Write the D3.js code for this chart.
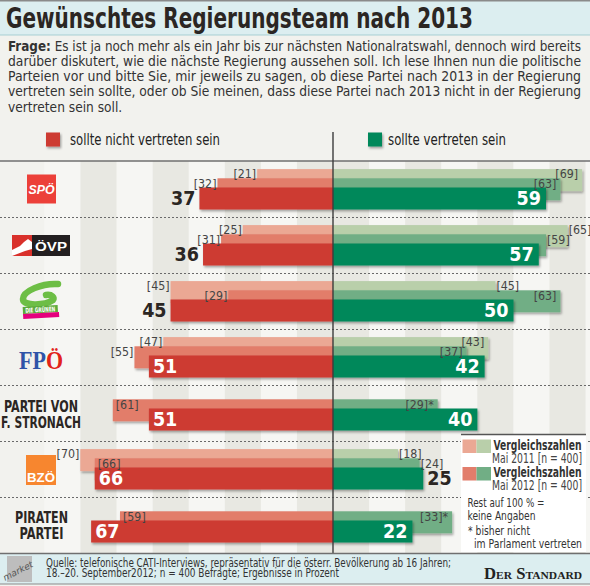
<!DOCTYPE html>
<html><head><meta charset="utf-8">
<script src="https://cdn.jsdelivr.net/npm/d3@7"></script>
<style>html,body{margin:0;padding:0;background:#F2F2EE;} svg{display:block;}</style>
</head><body>
<svg id="chart" width="590" height="586"></svg>
<script>
// ---------- DATA ----------
const parties = ["SPÖ","ÖVP","Die Grünen","FPÖ","Partei von F. Stronach","BZÖ","Piratenpartei"];
const notWantedSep2012 = [37,36,45,51,51,66,67];
const notWantedMay2012 = [32,31,29,55,61,66,59];
const notWantedMay2011 = [21,25,45,47,null,70,null];
const wantedSep2012   = [59,57,50,42,40,25,22];
const wantedMay2012   = [63,59,63,37,29,24,33];
const wantedMay2011   = [69,65,45,43,null,18,null];
const notInParliament = [false,false,false,false,true,false,true];
const legendLabels = ["sollte nicht vertreten sein","sollte vertreten sein"];
const titleText = "Gewünschtes Regierungsteam nach 2013";
const questionLabel = "Frage:";
const questionLines = [
  " Es ist ja noch mehr als ein Jahr bis zur nächsten Nationalratswahl, dennoch wird bereits",
  "darüber diskutert, wie die nächste Regierung aussehen soll. Ich lese Ihnen nun die politische",
  "Parteien vor und bitte Sie, mir jeweils zu sagen, ob diese Partei nach 2013 in der Regierung",
  "vertreten sein sollte, oder ob Sie meinen, dass diese Partei nach 2013 nicht in der Regierung",
  "vertreten sein soll."
];
const sourceLines = [
  "Quelle: telefonische CATI-Interviews, repräsentativ für die österr. Bevölkerung ab 16 Jahren;",
  "18.–20. September2012; n = 400 Befragte; Ergebnisse in Prozent"
];
const compLegend = [["Vergleichszahlen","Mai 2011 [n = 400]"],["Vergleichszahlen","Mai 2012 [n = 400]"]];
const noteLines = ["Rest auf 100 % =","keine Angaben","* bisher nicht","im Parlament vertreten"];
const stripeStarts = [0,20,40,60];

// ---------- STYLE (label placement) ----------
const valueOutsideLeft  = [1,1,1,0,0,0,0];
const valueOutsideRight = [0,0,0,0,0,1,0];
const cmpInsideL11 = [0,0,0,0,0,0,0];
const cmpInsideL12 = [0,0,0,0,1,1,1];
const cmpInsideR11 = [1,0,0,1,0,0,0];
const cmpInsideR12 = [1,0,1,1,1,0,1];

const C = {red:"#CD3B33", red12:"#E27D6B", red11:"#EBA894",
           green:"#00885A", green12:"#71AE85", green11:"#B9CFAA",
           ink:"#2B2623", gray:"#4a4a4a"};
const NARROW = "'Liberation Sans Narrow','Arial Narrow','DejaVu Sans Condensed',Roboto,sans-serif";
const SERIF = "'Liberation Serif','DejaVu Serif',serif";

const svg = d3.select("#chart");
const defs = svg.append("defs");
const f = defs.append("filter").attr("id","sh").attr("x","-10%").attr("y","-20%").attr("width","130%").attr("height","160%");
f.append("feDropShadow").attr("dx",1.2).attr("dy",1.8).attr("stdDeviation",1.1)
 .attr("flood-color","#000").attr("flood-opacity",0.35);

// background
svg.append("rect").attr("width",590).attr("height",586).attr("fill","#F2F2EE");

// scales
const cx = 333;
const x = d3.scaleLinear().domain([0,100]).range([0,361]);
const y = d3.scaleBand().domain(parties).range([161,553]);

// stripes
const stripes = svg.append("g");
stripeStarts.forEach(s => {
  [1,-1].forEach(dir => {
    const a = cx + dir*x(s), b = cx + dir*x(s+10);
    stripes.append("rect").attr("x",Math.min(a,b)).attr("y",161)
      .attr("width",Math.abs(b-a)).attr("height",553-161).attr("fill","#E8E8E2");
    const a2 = cx + dir*x(s+10), b2 = cx + dir*x(s+20);
    stripes.append("rect").attr("x",Math.min(a2,b2)).attr("y",161)
      .attr("width",Math.abs(b2-a2)).attr("height",553-161).attr("fill","#F6F6F3");
  });
});

// title band
svg.append("rect").attr("x",0).attr("y",0).attr("width",590).attr("height",35).attr("fill","#DCEEF0");
svg.append("line").attr("x1",0).attr("x2",590).attr("y1",35).attr("y2",35).attr("stroke","#A7CFD3").attr("stroke-width",1);
svg.append("line").attr("x1",0).attr("x2",590).attr("y1",0.75).attr("y2",0.75).attr("stroke","#8a8a8a").attr("stroke-width",1.5);
svg.append("text").attr("x",6).attr("y",28).text(titleText)
  .attr("font-family",NARROW).attr("font-weight","bold").attr("font-size",27.5)
  .attr("fill",C.ink).attr("textLength",467).attr("lengthAdjust","spacingAndGlyphs");

// question
questionLines.forEach((line,i) => {
  const t = svg.append("text").attr("x",8).attr("y",50.5 + i*15.3)
    .attr("font-family",NARROW).attr("font-size",13.6).attr("fill","#333");
  if (i === 0) t.append("tspan").attr("font-weight","bold").text(questionLabel);
  t.append("tspan").text(line);
  if (i < 4) t.attr("textLength",573).attr("lengthAdjust","spacingAndGlyphs");
});

// top legend
[[46,C.red,70,legendLabels[0],150],[368,C.green,388,legendLabels[1],118]].forEach(([sx,col,tx,lab,w]) => {
  svg.append("rect").attr("x",sx).attr("y",132.5).attr("width",14).attr("height",14).attr("fill",col).attr("filter","url(#sh)");
  svg.append("text").attr("x",tx).attr("y",144.5).text(lab).attr("font-family",NARROW)
    .attr("font-size",15.5).attr("fill","#222").attr("textLength",w).attr("lengthAdjust","spacingAndGlyphs");
});

// top border line of chart
svg.append("line").attr("x1",0).attr("x2",590).attr("y1",161).attr("y2",161).attr("stroke","#6f6f6f").attr("stroke-width",1.5);
// row separators
parties.slice(1).forEach(p => {
  svg.append("line").attr("x1",0).attr("x2",590).attr("y1",y(p)+0.5).attr("y2",y(p)+0.5)
    .attr("stroke","#6a6a6a").attr("stroke-width",1).attr("stroke-dasharray","2,2");
});

// bars
const bars = svg.append("g");
const labels = svg.append("g");
function barL(v, top, col){ bars.append("rect").attr("x",cx - x(v)).attr("y",top).attr("width",x(v)).attr("height",22).attr("fill",col).attr("filter","url(#sh)"); }
function barR(v, top, col){ bars.append("rect").attr("x",cx).attr("y",top).attr("width",x(v)).attr("height",22).attr("fill",col).attr("filter","url(#sh)"); }
function cmpLabel(side, v, top, inside, star){
  const t = "[" + v + "]" + (star ? "*" : "");
  let xx, anchor;
  if (side === "L") { xx = inside ? cx - x(v) + 3 : cx - x(v) - 1; anchor = inside ? "start" : "end"; }
  else { xx = inside ? cx + x(v) - 4 : cx + x(v) + 1; anchor = inside ? "end" : "start"; }
  labels.append("text").attr("x",xx).attr("y",top + 9.2).attr("text-anchor",anchor).text(t)
    .attr("font-family",NARROW).attr("font-size",12.3).attr("fill","#444");
}
function valLabel(side, v, top, outside){
  let xx, anchor, fill;
  if (side === "L") { xx = outside ? cx - x(v) - 4 : cx - x(v) + 4; anchor = outside ? "end" : "start"; }
  else { xx = outside ? cx + x(v) + 4 : cx + x(v) - 5; anchor = outside ? "start" : "end"; }
  fill = outside ? C.ink : "#fff";
  labels.append("text").attr("x",xx).attr("y",top + 17.8).attr("text-anchor",anchor).text(v)
    .attr("font-family",NARROW).attr("font-weight","bold").attr("font-size",19.5).attr("fill",fill);
}
parties.forEach((p,i) => {
  const t = y(p);
  const has11 = notWantedMay2011[i] != null;
  const yc = t + (has11 ? 26.5 : 23.5);
  const y12 = yc - 9.2, y11 = yc - 18.4;
  if (has11) { barL(notWantedMay2011[i], y11, C.red11); barR(wantedMay2011[i], y11, C.green11); }
  barL(notWantedMay2012[i], y12, C.red12); barR(wantedMay2012[i], y12, C.green12);
  barL(notWantedSep2012[i], yc, C.red); barR(wantedSep2012[i], yc, C.green);
  if (has11) {
    cmpLabel("L", notWantedMay2011[i], y11, cmpInsideL11[i], false);
    cmpLabel("R", wantedMay2011[i], y11, cmpInsideR11[i], notInParliament[i]);
  }
  cmpLabel("L", notWantedMay2012[i], y12, cmpInsideL12[i], false);
  cmpLabel("R", wantedMay2012[i], y12, cmpInsideR12[i], notInParliament[i]);
  valLabel("L", notWantedSep2012[i], yc, valueOutsideLeft[i]);
  valLabel("R", wantedSep2012[i], yc, valueOutsideRight[i]);
});

// center line
svg.append("line").attr("x1",cx).attr("x2",cx).attr("y1",132).attr("y2",553).attr("stroke","#3d3d3d").attr("stroke-width",1.4);

// ---------- logos ----------
const lg = svg.append("g");
const rowMid = i => y(parties[i]) + y.bandwidth()/2;
// SPÖ
lg.append("rect").attr("x",27).attr("y",rowMid(0)-14.5).attr("width",29).attr("height",29).attr("fill","#EC4039");
lg.append("text").attr("x",41.5).attr("y",rowMid(0)+5).attr("text-anchor","middle").text("SPÖ")
  .attr("font-family","'Liberation Sans',Arial,sans-serif").attr("font-weight","bold").attr("font-style","italic")
  .attr("font-size",12).attr("fill","#fff").attr("textLength",26).attr("lengthAdjust","spacingAndGlyphs");
// ÖVP
{
  const m = rowMid(1);
  lg.append("rect").attr("x",12).attr("y",m-10).attr("width",20).attr("height",21).attr("fill","#D9312B");
  lg.append("path").attr("d",`M12,${m+5} L20,${m+1} L24,${m-3} L28,${m-6} L32,${m-3} L32,${m+4} L25,${m+6} L12,${m+11} Z`).attr("fill","#fff");
  lg.append("rect").attr("x",32).attr("y",m-10).attr("width",38).attr("height",21).attr("fill","#231F20");
  lg.append("text").attr("x",51).attr("y",m+5.5).attr("text-anchor","middle").text("ÖVP")
    .attr("font-family","'Liberation Sans',Arial,sans-serif").attr("font-weight","bold").attr("font-size",13.5)
    .attr("fill","#fff").attr("textLength",32).attr("lengthAdjust","spacingAndGlyphs");
}
// Die Grünen
{
  const m = rowMid(2);
  lg.append("path").attr("d",`M58,${m-17} C42,${m-18} 23,${m-10} 23,${m-2} C23,${m+5} 44,${m+5} 53,${m-1} C55,${m-3} 52,${m-7} 46,${m-6}`)
    .attr("fill","none").attr("stroke","#6DBE45").attr("stroke-width",6.5).attr("stroke-linecap","round");
  const gg = lg.append("g").attr("transform",`rotate(-3,41,${m+12})`);
  gg.append("rect").attr("x",23).attr("y",m+5).attr("width",35).attr("height",7).attr("fill","#5DAA3A");
  gg.append("text").attr("x",40.5).attr("y",m+11).attr("text-anchor","middle").text("DIE GRÜNEN")
    .attr("font-family",NARROW).attr("font-weight","bold").attr("font-size",6.5).attr("fill","#fff")
    .attr("textLength",30).attr("lengthAdjust","spacingAndGlyphs");
  gg.append("rect").attr("x",23).attr("y",m+12).attr("width",36).attr("height",5).attr("fill","#E5007D");
}
// FPÖ
{
  const m = rowMid(3);
  const t = lg.append("text").attr("x",19).attr("y",m+12).attr("font-family",SERIF).attr("font-weight","bold")
    .attr("font-size",25).attr("textLength",44).attr("lengthAdjust","spacingAndGlyphs");
  t.append("tspan").attr("fill","#2F54A8").text("FP");
  t.append("tspan").attr("fill","#E2231A").text("Ö");
}
// Stronach
[["PARTEI VON",74,-1],["F. STRONACH",80,15]].forEach(([s,w,dy]) => {
  lg.append("text").attr("x",41).attr("y",rowMid(4)+dy).attr("text-anchor","middle").text(s)
    .attr("font-family",NARROW).attr("font-weight","bold").attr("font-size",16.5).attr("fill",C.ink)
    .attr("textLength",w).attr("lengthAdjust","spacingAndGlyphs");
});
// BZÖ
{
  const m = rowMid(5);
  lg.append("rect").attr("x",26).attr("y",m-14).attr("width",30).attr("height",30).attr("fill","#F7862F");
  lg.append("text").attr("x",41).attr("y",m+13).attr("text-anchor","middle").text("BZÖ")
    .attr("font-family","'Liberation Sans',Arial,sans-serif").attr("font-weight","bold").attr("font-size",13)
    .attr("fill","#fff").attr("textLength",28).attr("lengthAdjust","spacingAndGlyphs");
}
// Piraten
[["PIRATEN",53,-2],["PARTEI",44,14]].forEach(([s,w,dy]) => {
  lg.append("text").attr("x",41.5).attr("y",rowMid(6)+dy).attr("text-anchor","middle").text(s)
    .attr("font-family",NARROW).attr("font-weight","bold").attr("font-size",16).attr("fill",C.ink)
    .attr("textLength",w).attr("lengthAdjust","spacingAndGlyphs");
});

// ---------- comparison legend box ----------
const lb = svg.append("g");
lb.append("rect").attr("x",461).attr("y",434).attr("width",125).attr("height",118).attr("fill","#fff");
lb.append("line").attr("x1",461).attr("x2",586).attr("y1",434.5).attr("y2",434.5).attr("stroke","#555").attr("stroke-width",1.5);
[[C.red11,C.green11],[C.red12,C.green12]].forEach((cols,k) => {
  const top = 439.5 + k*27.5;
  lb.append("rect").attr("x",462.5).attr("y",top).attr("width",14).attr("height",13.5).attr("fill",cols[0]);
  lb.append("rect").attr("x",476.5).attr("y",top).attr("width",14.5).attr("height",13.5).attr("fill",cols[1]);
  lb.append("text").attr("x",493.5).attr("y",top+10).text(compLegend[k][0]).attr("font-family",NARROW)
    .attr("font-weight","bold").attr("font-size",13.5).attr("fill","#333").attr("textLength",88).attr("lengthAdjust","spacingAndGlyphs");
  lb.append("text").attr("x",492).attr("y",top+23.3).text(compLegend[k][1]).attr("font-family",NARROW)
    .attr("font-size",13.5).attr("fill","#444").attr("textLength",90).attr("lengthAdjust","spacingAndGlyphs");
});
[[467.5,506.8,noteLines[0],77],[467.5,519.5,noteLines[1],68],[468,535,noteLines[2],62],[474,547.5,noteLines[3],108]].forEach(([tx,ty,s,w]) => {
  lb.append("text").attr("x",tx).attr("y",ty).text(s).attr("font-family",NARROW).attr("font-size",13)
    .attr("fill","#333").attr("textLength",w).attr("lengthAdjust","spacingAndGlyphs");
});

// ---------- footer ----------
svg.append("rect").attr("x",0).attr("y",553).attr("width",590).attr("height",31).attr("fill","#DCEEF0");
svg.append("line").attr("x1",0).attr("x2",590).attr("y1",553.5).attr("y2",553.5).attr("stroke","#6f6f6f").attr("stroke-width",1.5);
svg.append("line").attr("x1",0).attr("x2",590).attr("y1",584).attr("y2",584).attr("stroke","#8a8a8a").attr("stroke-width",1.2);
svg.append("rect").attr("x",7).attr("y",556).attr("width",25).attr("height",26).attr("fill","#BDBDBD");
svg.append("text").attr("transform","translate(5,581) rotate(-27)").text("market")
  .attr("font-family","'DejaVu Sans',sans-serif").attr("font-style","italic").attr("font-size",9).attr("fill","#555");
sourceLines.forEach((s,i) => {
  svg.append("text").attr("x",46).attr("y",566.5 + i*10.5).text(s).attr("font-family",NARROW)
    .attr("font-size",12).attr("fill","#333").attr("textLength", i===0 ? 405 : 293).attr("lengthAdjust","spacingAndGlyphs");
});
svg.append("text").attr("x",582).attr("y",578.5).attr("text-anchor","end").text("Der Standard")
  .attr("font-family",SERIF).attr("font-weight","bold").attr("font-variant","small-caps").attr("font-size",16)
  .attr("fill","#222").attr("textLength",98).attr("lengthAdjust","spacingAndGlyphs");
</script>
</body></html>
